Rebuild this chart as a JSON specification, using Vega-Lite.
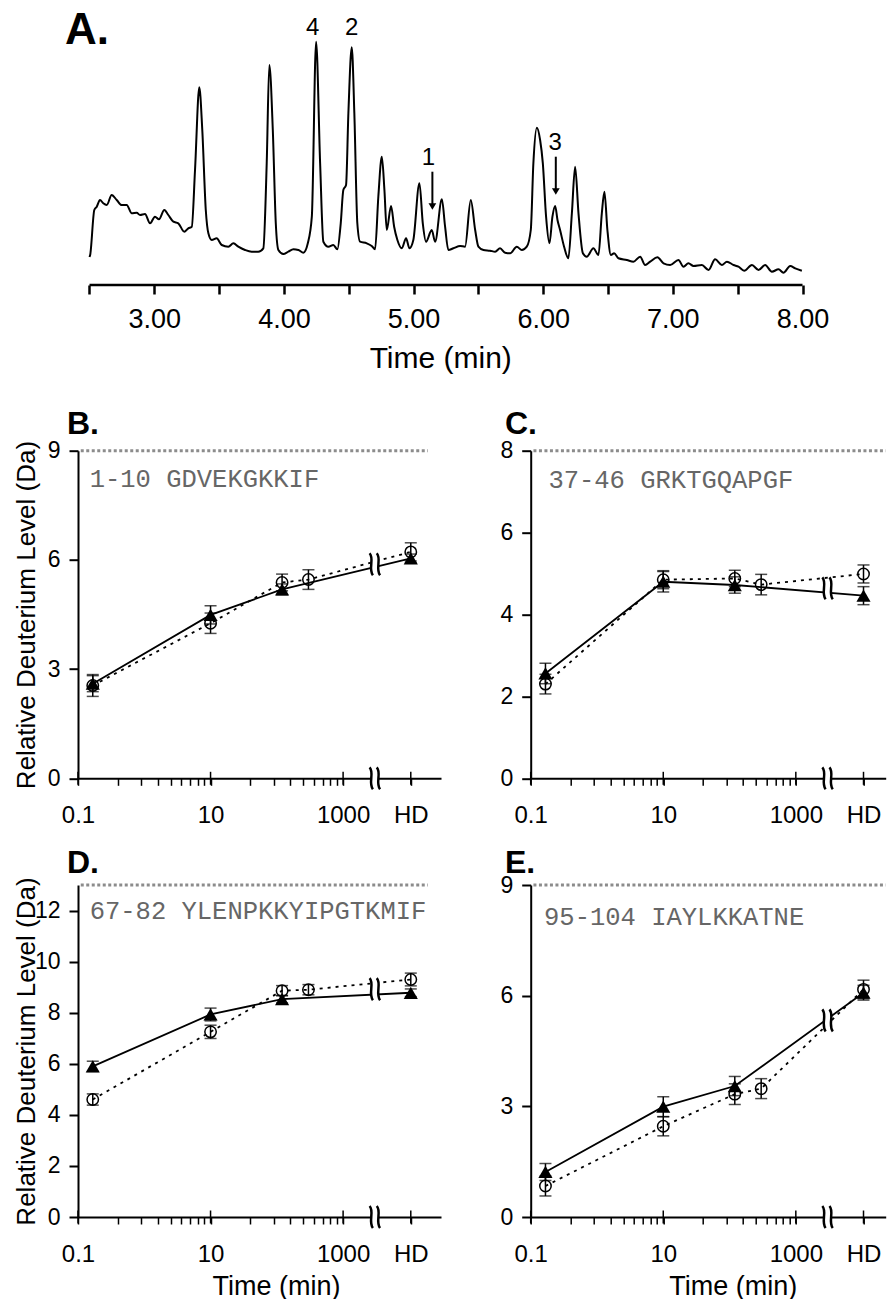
{
  "$schema": "https://vega.github.io/schema/vega-lite/v6.json",
  "autosize": {"type": "pad"},
  "padding": {"left": 13, "top": 0, "right": 0, "bottom": 0},
  "background": "white",
  "config": {
    "font": "Liberation Sans",
    "view": {"stroke": null},
    "axis": {"grid": false, "domainColor": "black", "tickColor": "black", "labelColor": "black", "titleColor": "black", "labelFont": "Liberation Sans", "titleFont": "Liberation Sans", "titleFontWeight": "normal"}
  },
  "datasets": {
    "chrom": [
      {"t":2.50,"i":28},{"t":2.505,"i":30},{"t":2.537,"i":75},{"t":2.556,"i":78.3},{"t":2.581,"i":85},{"t":2.606,"i":81.7},{"t":2.633,"i":80},{"t":2.671,"i":90},{"t":2.710,"i":85},{"t":2.748,"i":80},{"t":2.787,"i":80},{"t":2.826,"i":71.7},{"t":2.864,"i":72.3},{"t":2.890,"i":70},{"t":2.928,"i":71},{"t":2.967,"i":61.7},{"t":3.005,"i":68.3},{"t":3.036,"i":65.7},{"t":3.077,"i":75},{"t":3.108,"i":70},{"t":3.147,"i":63.3},{"t":3.185,"i":61.7},{"t":3.231,"i":53.3},{"t":3.262,"i":56.7},{"t":3.289,"i":58.3},{"t":3.314,"i":115},{"t":3.347,"i":197.7},{"t":3.370,"i":155},{"t":3.397,"i":75},{"t":3.417,"i":51.7},{"t":3.443,"i":45},{"t":3.481,"i":46.7},{"t":3.520,"i":40},{"t":3.571,"i":38.3},{"t":3.610,"i":41.7},{"t":3.648,"i":38.3},{"t":3.700,"i":35},{"t":3.751,"i":33.3},{"t":3.802,"i":33.3},{"t":3.841,"i":36.7},{"t":3.867,"i":121.7},{"t":3.887,"i":220},{"t":3.914,"i":155},{"t":3.937,"i":61.7},{"t":3.957,"i":35},{"t":3.995,"i":31},{"t":4.034,"i":33.3},{"t":4.073,"i":35.7},{"t":4.111,"i":35},{"t":4.150,"i":32.3},{"t":4.184,"i":41.7},{"t":4.215,"i":68.3},{"t":4.248,"i":243.3},{"t":4.279,"i":121.7},{"t":4.304,"i":43.3},{"t":4.343,"i":38.3},{"t":4.381,"i":40},{"t":4.412,"i":35.7},{"t":4.438,"i":61.7},{"t":4.458,"i":95},{"t":4.479,"i":100},{"t":4.497,"i":171.7},{"t":4.523,"i":237.7},{"t":4.543,"i":171.7},{"t":4.566,"i":61.7},{"t":4.587,"i":43.3},{"t":4.639,"i":41.7},{"t":4.677,"i":39},{"t":4.703,"i":35.7},{"t":4.728,"i":88.3},{"t":4.755,"i":128.3},{"t":4.775,"i":95},{"t":4.793,"i":55},{"t":4.826,"i":79},{"t":4.850,"i":58.3},{"t":4.875,"i":45},{"t":4.909,"i":36.7},{"t":4.942,"i":46.7},{"t":4.968,"i":36.7},{"t":4.998,"i":45},{"t":5.045,"i":101.7},{"t":5.071,"i":61.7},{"t":5.096,"i":43.3},{"t":5.140,"i":55},{"t":5.166,"i":43.3},{"t":5.218,"i":85.7},{"t":5.243,"i":58.3},{"t":5.268,"i":35},{"t":5.307,"i":36.7},{"t":5.359,"i":39},{"t":5.397,"i":38.3},{"t":5.441,"i":85},{"t":5.475,"i":55},{"t":5.500,"i":38.3},{"t":5.539,"i":35},{"t":5.590,"i":34.3},{"t":5.629,"i":33.3},{"t":5.667,"i":36.7},{"t":5.706,"i":32.3},{"t":5.745,"i":31.7},{"t":5.796,"i":38.3},{"t":5.835,"i":35},{"t":5.873,"i":38.3},{"t":5.904,"i":55},{"t":5.924,"i":121.7},{"t":5.951,"i":157.3},{"t":5.976,"i":145},{"t":5.997,"i":121.7},{"t":6.022,"i":68.3},{"t":6.048,"i":41.7},{"t":6.071,"i":68.3},{"t":6.092,"i":79},{"t":6.110,"i":65},{"t":6.130,"i":55},{"t":6.161,"i":38.3},{"t":6.194,"i":26.7},{"t":6.221,"i":71.7},{"t":6.246,"i":118.3},{"t":6.272,"i":71.7},{"t":6.306,"i":31.7},{"t":6.336,"i":28.3},{"t":6.387,"i":36.7},{"t":6.426,"i":30},{"t":6.452,"i":71.7},{"t":6.472,"i":93.3},{"t":6.495,"i":55},{"t":6.522,"i":30},{"t":6.547,"i":31.7},{"t":6.580,"i":26.7},{"t":6.645,"i":25},{"t":6.696,"i":23.3},{"t":6.748,"i":28.3},{"t":6.786,"i":20},{"t":6.825,"i":23.3},{"t":6.881,"i":27.7},{"t":6.928,"i":21.7},{"t":6.979,"i":20},{"t":7.043,"i":25},{"t":7.082,"i":18.3},{"t":7.120,"i":21.7},{"t":7.159,"i":19},{"t":7.224,"i":20},{"t":7.275,"i":15},{"t":7.326,"i":25.7},{"t":7.378,"i":20},{"t":7.417,"i":23.3},{"t":7.468,"i":20},{"t":7.506,"i":18.3},{"t":7.550,"i":14.3},{"t":7.610,"i":20},{"t":7.661,"i":15},{"t":7.712,"i":20},{"t":7.764,"i":13.3},{"t":7.815,"i":15.7},{"t":7.853,"i":12.3},{"t":7.905,"i":19},{"t":7.944,"i":16.7},{"t":7.995,"i":14.3}
    ],
    "pts": [
      {"p":"B","s":"tri","t":0.167,"v":2.6,"e":0.22},{"p":"B","s":"tri","t":10,"v":4.49,"e":0.25},{"p":"B","s":"tri","t":120,"v":5.19,"e":0.15},{"p":"B","s":"tri","t":10500,"v":6.04,"e":0.12},
      {"p":"B","s":"circ","t":0.167,"v":2.55,"e":0.3},{"p":"B","s":"circ","t":10,"v":4.26,"e":0.28},{"p":"B","s":"circ","t":120,"v":5.38,"e":0.23},{"p":"B","s":"circ","t":300,"v":5.46,"e":0.27},{"p":"B","s":"circ","t":10500,"v":6.22,"e":0.25},
      {"p":"C","s":"tri","t":0.167,"v":2.56,"e":0.25},{"p":"C","s":"tri","t":10,"v":4.8,"e":0.25},{"p":"C","s":"tri","t":120,"v":4.72,"e":0.2},{"p":"C","s":"tri","t":10500,"v":4.46,"e":0.22},
      {"p":"C","s":"circ","t":0.167,"v":2.3,"e":0.24},{"p":"C","s":"circ","t":10,"v":4.85,"e":0.22},{"p":"C","s":"circ","t":120,"v":4.88,"e":0.2},{"p":"C","s":"circ","t":300,"v":4.73,"e":0.25},{"p":"C","s":"circ","t":10500,"v":4.99,"e":0.22},
      {"p":"D","s":"tri","t":0.167,"v":5.9,"e":0.2},{"p":"D","s":"tri","t":10,"v":7.93,"e":0.25},{"p":"D","s":"tri","t":120,"v":8.53,"e":0.15},{"p":"D","s":"tri","t":10500,"v":8.78,"e":0.15},
      {"p":"D","s":"circ","t":0.167,"v":4.6,"e":0.22},{"p":"D","s":"circ","t":10,"v":7.25,"e":0.26},{"p":"D","s":"circ","t":120,"v":8.86,"e":0.2},{"p":"D","s":"circ","t":300,"v":8.9,"e":0.2},{"p":"D","s":"circ","t":10500,"v":9.3,"e":0.25},
      {"p":"E","s":"tri","t":0.167,"v":1.22,"e":0.23},{"p":"E","s":"tri","t":10,"v":2.99,"e":0.27},{"p":"E","s":"tri","t":120,"v":3.55,"e":0.26},{"p":"E","s":"tri","t":10500,"v":6.08,"e":0.2},
      {"p":"E","s":"circ","t":0.167,"v":0.84,"e":0.27},{"p":"E","s":"circ","t":10,"v":2.46,"e":0.26},{"p":"E","s":"circ","t":120,"v":3.33,"e":0.28},{"p":"E","s":"circ","t":300,"v":3.48,"e":0.27},{"p":"E","s":"circ","t":10500,"v":6.17,"e":0.25}
    ],
    "brk": [
      {"p":"B","t":3100,"v":0},{"p":"B","t":3100,"v":5.88},
      {"p":"C","t":3100,"v":0},{"p":"C","t":3100,"v":4.64},
      {"p":"D","t":3100,"v":0},{"p":"D","t":3100,"v":8.92},
      {"p":"E","t":3100,"v":0},{"p":"E","t":3100,"v":5.33}
    ],
    "txt": [
      {"p":"B","t":0.15,"v":8.0,"label":"1-10  GDVEKGKKIF"},
      {"p":"C","t":0.185,"v":7.08,"label":"37-46 GRKTGQAPGF"},
      {"p":"D","t":0.15,"v":11.65,"label":"67-82 YLENPKKYIPGTKMIF"},
      {"p":"E","t":0.159,"v":7.92,"label":"95-104 IAYLKKATNE"}
    ],
    "major": [{"t":0.1,"v":0},{"t":10,"v":0},{"t":1000,"v":0},{"t":10500,"v":0}]
  },
  "vconcat": [
    {
      "width": 724.5, "height": 285,
      "title": {"text": "A.", "anchor": "start", "frame": "group", "fontSize": 44, "fontWeight": "bold", "color": "black", "baseline": "alphabetic", "offset": 0, "dx": -13, "dy": 88},
      "encoding": {
        "x": {"field": "t", "type": "quantitative", "scale": {"domain": [2.4113, 8.0], "nice": false, "zero": false},
              "axis": {"values": [2.5,3,3.5,4,4.5,5,5.5,6,6.5,7,7.5,8], "labelExpr": "datum.value % 1 == 0 ? format(datum.value, '.2f') : ''", "domain": false, "tickSize": 9, "tickWidth": 2.5, "labelFontSize": 27, "labelPadding": 12, "labelFlush": false, "labelOverlap": false, "title": "Time (min)", "titleFontSize": 30, "titlePadding": 11}},
        "y": {"field": "i", "type": "quantitative", "scale": {"domain": [0, 285], "nice": false}, "axis": null}
      },
      "layer": [
        {"data": {"name": "chrom"}, "mark": {"type": "line", "color": "black", "strokeWidth": 2, "interpolate": "monotone"}},
        {"data": {"values": [{"t": 2.5, "t2": 8.0, "i": 0}]}, "mark": {"type": "rule", "color": "black", "strokeWidth": 2.5}, "encoding": {"x2": {"field": "t2"}}},
        {"data": {"values": [{"t":4.222,"i":250,"label":"4"},{"t":4.523,"i":250,"label":"2"},{"t":5.114,"i":120,"label":"1"},{"t":6.092,"i":135,"label":"3"}]},
         "mark": {"type": "text", "fontSize": 24, "color": "black", "align": "center", "baseline": "alphabetic"}, "encoding": {"text": {"field": "label"}}},
        {"data": {"values": [{"t":5.145,"top":113.3,"bot":80},{"t":6.097,"top":128.3,"bot":95}]},
         "mark": {"type": "rule", "color": "black", "strokeWidth": 2}, "encoding": {"y": {"field": "top", "type": "quantitative"}, "y2": {"field": "bot"}}},
        {"data": {"values": [{"t":5.145,"i":78.5},{"t":6.097,"i":93.5}]},
         "mark": {"type": "point", "shape": "triangle-down", "filled": true, "color": "black", "size": 60, "opacity": 1}}
      ]
    },
    {
      "vconcat": [
        {
          "hconcat": [
            {
              "width": 363, "height": 327.6,
              "title": {"text": "B.", "anchor": "start", "frame": "group", "fontSize": 32, "fontWeight": "bold", "color": "black", "baseline": "alphabetic", "offset": 0, "dx": -11, "dy": 26.2},
              "encoding": {
                "x": {"field": "t", "type": "quantitative", "scale": {"type": "log", "domain": [0.1, 30000], "nice": false},
                      "axis": {"values": [0.1,0.4,0.9,1.6,2.5,3.6,4.9,6.4,8.1,10,40,90,160,250,360,490,640,810,1000,10500], "labelExpr": "datum.value == 0.1 ? '0.1' : datum.value == 10 ? '10' : datum.value == 1000 ? '1000' : datum.value == 10500 ? 'HD' : ''", "tickSize": 7, "tickWidth": 1.5, "domainWidth": 2, "labelFontSize": 24, "labelPadding": 18, "labelFlush": false, "labelOverlap": false, "title": null}},
                "y": {"field": "v", "type": "quantitative", "scale": {"domain": [0, 9], "nice": false},
                      "axis": {"values": [0,3,6,9], "tickSize": 9, "tickWidth": 2, "domainWidth": 2, "labelFontSize": 23, "labelPadding": 9, "title": "Relative Deuterium Level (Da)", "titleFontSize": 26, "titleX": -52, "titleY": 163.8, "titleBaseline": "middle", "titleAlign": "center"}}
              },
              "layer": [
                {"data": {"values": [{"t": 0.11, "t2": 19000, "v": 9}]}, "mark": {"type": "rule", "color": "#8c8c8c", "strokeWidth": 3, "strokeDash": [3, 2.5]}, "encoding": {"x2": {"field": "t2"}}},
                {"data": {"name": "pts"}, "transform": [{"filter": "datum.p == 'B' && datum.s == 'tri'"}], "mark": {"type": "line", "color": "black", "strokeWidth": 1.8}},
                {"data": {"name": "pts"}, "transform": [{"filter": "datum.p == 'B' && datum.s == 'circ'"}], "mark": {"type": "line", "color": "black", "strokeWidth": 1.8, "strokeDash": [3, 5]}},
                {"data": {"name": "pts"}, "transform": [{"filter": "datum.p == 'B'"}], "mark": {"type": "errorbar", "ticks": {"size": 12, "thickness": 1.5}, "color": "black", "thickness": 1.5}, "encoding": {"yError": {"field": "e"}, "detail": {"field": "s"}}},
                {"data": {"name": "pts"}, "transform": [{"filter": "datum.p == 'B' && datum.s == 'circ'"}], "mark": {"type": "point", "shape": "circle", "filled": false, "color": "black", "strokeWidth": 1.5, "size": 130, "opacity": 1}},
                {"data": {"name": "pts"}, "transform": [{"filter": "datum.p == 'B' && datum.s == 'tri'"}], "mark": {"type": "point", "shape": "triangle-up", "filled": true, "color": "black", "size": 200, "opacity": 1}},
                {"data": {"name": "brk"}, "transform": [{"filter": "datum.p == 'B'"}], "mark": {"type": "point", "shape": "M-0.45,-0.75L0.3,-0.75L0.3,0.75L-0.45,0.75Z", "filled": true, "color": "white", "strokeWidth": 0, "size": 484, "opacity": 1}},
                {"data": {"name": "brk"}, "transform": [{"filter": "datum.p == 'B'"}], "mark": {"type": "point", "shape": "M-0.55,-1C-0.1,-0.5,-0.7,0.4,-0.25,1M0.1,-1C0.55,-0.5,-0.05,0.4,0.4,1", "filled": false, "color": "black", "strokeWidth": 2.5, "size": 484, "opacity": 1}},
                {"data": {"name": "major"}, "mark": {"type": "tick", "orient": "vertical", "size": 13, "thickness": 1.5, "color": "black", "opacity": 1}},
                {"data": {"name": "txt"}, "transform": [{"filter": "datum.p == 'B'"}], "mark": {"type": "text", "font": "Liberation Mono", "fontSize": 25.5, "color": "#666666", "align": "left", "baseline": "alphabetic"}, "encoding": {"text": {"field": "label"}}}
              ]
            },
            {
              "width": 355, "height": 327.6,
              "title": {"text": "C.", "anchor": "start", "frame": "group", "fontSize": 32, "fontWeight": "bold", "color": "black", "baseline": "alphabetic", "offset": 0, "dx": -25.7, "dy": 26.2},
              "encoding": {
                "x": {"field": "t", "type": "quantitative", "scale": {"type": "log", "domain": [0.1, 22700], "nice": false},
                      "axis": {"values": [0.1,0.4,0.9,1.6,2.5,3.6,4.9,6.4,8.1,10,40,90,160,250,360,490,640,810,1000,10500], "labelExpr": "datum.value == 0.1 ? '0.1' : datum.value == 10 ? '10' : datum.value == 1000 ? '1000' : datum.value == 10500 ? 'HD' : ''", "tickSize": 7, "tickWidth": 1.5, "domainWidth": 2, "labelFontSize": 24, "labelPadding": 18, "labelFlush": false, "labelOverlap": false, "title": null}},
                "y": {"field": "v", "type": "quantitative", "scale": {"domain": [0, 8], "nice": false},
                      "axis": {"values": [0,2,4,6,8], "tickSize": 9, "tickWidth": 2, "domainWidth": 2, "labelFontSize": 23, "labelPadding": 9, "title": null}}
              },
              "layer": [
                {"data": {"values": [{"t": 0.11, "t2": 22700, "v": 8}]}, "mark": {"type": "rule", "color": "#8c8c8c", "strokeWidth": 3, "strokeDash": [3, 2.5]}, "encoding": {"x2": {"field": "t2"}}},
                {"data": {"name": "pts"}, "transform": [{"filter": "datum.p == 'C' && datum.s == 'tri'"}], "mark": {"type": "line", "color": "black", "strokeWidth": 1.8}},
                {"data": {"name": "pts"}, "transform": [{"filter": "datum.p == 'C' && datum.s == 'circ'"}], "mark": {"type": "line", "color": "black", "strokeWidth": 1.8, "strokeDash": [3, 5]}},
                {"data": {"name": "pts"}, "transform": [{"filter": "datum.p == 'C'"}], "mark": {"type": "errorbar", "ticks": {"size": 12, "thickness": 1.5}, "color": "black", "thickness": 1.5}, "encoding": {"yError": {"field": "e"}, "detail": {"field": "s"}}},
                {"data": {"name": "pts"}, "transform": [{"filter": "datum.p == 'C' && datum.s == 'circ'"}], "mark": {"type": "point", "shape": "circle", "filled": false, "color": "black", "strokeWidth": 1.5, "size": 130, "opacity": 1}},
                {"data": {"name": "pts"}, "transform": [{"filter": "datum.p == 'C' && datum.s == 'tri'"}], "mark": {"type": "point", "shape": "triangle-up", "filled": true, "color": "black", "size": 200, "opacity": 1}},
                {"data": {"name": "brk"}, "transform": [{"filter": "datum.p == 'C'"}], "mark": {"type": "point", "shape": "M-0.45,-0.75L0.3,-0.75L0.3,0.75L-0.45,0.75Z", "filled": true, "color": "white", "strokeWidth": 0, "size": 484, "opacity": 1}},
                {"data": {"name": "brk"}, "transform": [{"filter": "datum.p == 'C'"}], "mark": {"type": "point", "shape": "M-0.55,-1C-0.1,-0.5,-0.7,0.4,-0.25,1M0.1,-1C0.55,-0.5,-0.05,0.4,0.4,1", "filled": false, "color": "black", "strokeWidth": 2.5, "size": 484, "opacity": 1}},
                {"data": {"name": "major"}, "mark": {"type": "tick", "orient": "vertical", "size": 13, "thickness": 1.5, "color": "black", "opacity": 1}},
                {"data": {"name": "txt"}, "transform": [{"filter": "datum.p == 'C'"}], "mark": {"type": "text", "font": "Liberation Mono", "fontSize": 25.5, "color": "#666666", "align": "left", "baseline": "alphabetic"}, "encoding": {"text": {"field": "label"}}}
              ]
            }
          ],
          "spacing": 89.7,
          "bounds": "flush"
        },
        {
          "hconcat": [
            {
              "width": 363, "height": 332,
              "title": {"text": "D.", "anchor": "start", "frame": "group", "fontSize": 32, "fontWeight": "bold", "color": "black", "baseline": "alphabetic", "offset": 0, "dx": -11, "dy": 28},
              "encoding": {
                "x": {"field": "t", "type": "quantitative", "scale": {"type": "log", "domain": [0.1, 30000], "nice": false},
                      "axis": {"values": [0.1,0.4,0.9,1.6,2.5,3.6,4.9,6.4,8.1,10,40,90,160,250,360,490,640,810,1000,10500], "labelExpr": "datum.value == 0.1 ? '0.1' : datum.value == 10 ? '10' : datum.value == 1000 ? '1000' : datum.value == 10500 ? 'HD' : ''", "tickSize": 7, "tickWidth": 1.5, "domainWidth": 2, "labelFontSize": 24, "labelPadding": 18, "labelFlush": false, "labelOverlap": false, "title": "Time (min)", "titleFontSize": 27, "titleX": 198, "titleY": 69, "titleBaseline": "middle", "titleAlign": "center"}},
                "y": {"field": "v", "type": "quantitative", "scale": {"domain": [0, 13], "nice": false},
                      "axis": {"values": [0,2,4,6,8,10,12], "tickSize": 9, "tickWidth": 2, "domainWidth": 2, "labelFontSize": 23, "labelPadding": 9, "title": "Relative Deuterium Level (Da)", "titleFontSize": 26, "titleX": -52, "titleY": 166, "titleBaseline": "middle", "titleAlign": "center"}}
              },
              "layer": [
                {"data": {"values": [{"t": 0.11, "t2": 19000, "v": 13}]}, "mark": {"type": "rule", "color": "#8c8c8c", "strokeWidth": 3, "strokeDash": [3, 2.5]}, "encoding": {"x2": {"field": "t2"}}},
                {"data": {"name": "pts"}, "transform": [{"filter": "datum.p == 'D' && datum.s == 'tri'"}], "mark": {"type": "line", "color": "black", "strokeWidth": 1.8}},
                {"data": {"name": "pts"}, "transform": [{"filter": "datum.p == 'D' && datum.s == 'circ'"}], "mark": {"type": "line", "color": "black", "strokeWidth": 1.8, "strokeDash": [3, 5]}},
                {"data": {"name": "pts"}, "transform": [{"filter": "datum.p == 'D'"}], "mark": {"type": "errorbar", "ticks": {"size": 12, "thickness": 1.5}, "color": "black", "thickness": 1.5}, "encoding": {"yError": {"field": "e"}, "detail": {"field": "s"}}},
                {"data": {"name": "pts"}, "transform": [{"filter": "datum.p == 'D' && datum.s == 'circ'"}], "mark": {"type": "point", "shape": "circle", "filled": false, "color": "black", "strokeWidth": 1.5, "size": 130, "opacity": 1}},
                {"data": {"name": "pts"}, "transform": [{"filter": "datum.p == 'D' && datum.s == 'tri'"}], "mark": {"type": "point", "shape": "triangle-up", "filled": true, "color": "black", "size": 200, "opacity": 1}},
                {"data": {"name": "brk"}, "transform": [{"filter": "datum.p == 'D'"}], "mark": {"type": "point", "shape": "M-0.45,-0.75L0.3,-0.75L0.3,0.75L-0.45,0.75Z", "filled": true, "color": "white", "strokeWidth": 0, "size": 484, "opacity": 1}},
                {"data": {"name": "brk"}, "transform": [{"filter": "datum.p == 'D'"}], "mark": {"type": "point", "shape": "M-0.55,-1C-0.1,-0.5,-0.7,0.4,-0.25,1M0.1,-1C0.55,-0.5,-0.05,0.4,0.4,1", "filled": false, "color": "black", "strokeWidth": 2.5, "size": 484, "opacity": 1}},
                {"data": {"name": "major"}, "mark": {"type": "tick", "orient": "vertical", "size": 13, "thickness": 1.5, "color": "black", "opacity": 1}},
                {"data": {"name": "txt"}, "transform": [{"filter": "datum.p == 'D'"}], "mark": {"type": "text", "font": "Liberation Mono", "fontSize": 25.5, "color": "#666666", "align": "left", "baseline": "alphabetic"}, "encoding": {"text": {"field": "label"}}}
              ]
            },
            {
              "width": 355, "height": 332,
              "title": {"text": "E.", "anchor": "start", "frame": "group", "fontSize": 32, "fontWeight": "bold", "color": "black", "baseline": "alphabetic", "offset": 0, "dx": -25.7, "dy": 30.7},
              "encoding": {
                "x": {"field": "t", "type": "quantitative", "scale": {"type": "log", "domain": [0.1, 22700], "nice": false},
                      "axis": {"values": [0.1,0.4,0.9,1.6,2.5,3.6,4.9,6.4,8.1,10,40,90,160,250,360,490,640,810,1000,10500], "labelExpr": "datum.value == 0.1 ? '0.1' : datum.value == 10 ? '10' : datum.value == 1000 ? '1000' : datum.value == 10500 ? 'HD' : ''", "tickSize": 7, "tickWidth": 1.5, "domainWidth": 2, "labelFontSize": 24, "labelPadding": 18, "labelFlush": false, "labelOverlap": false, "title": "Time (min)", "titleFontSize": 27, "titleX": 202, "titleY": 69, "titleBaseline": "middle", "titleAlign": "center"}},
                "y": {"field": "v", "type": "quantitative", "scale": {"domain": [0, 9], "nice": false},
                      "axis": {"values": [0,3,6,9], "tickSize": 9, "tickWidth": 2, "domainWidth": 2, "labelFontSize": 23, "labelPadding": 9, "title": null}}
              },
              "layer": [
                {"data": {"values": [{"t": 0.11, "t2": 22700, "v": 9}]}, "mark": {"type": "rule", "color": "#8c8c8c", "strokeWidth": 3, "strokeDash": [3, 2.5]}, "encoding": {"x2": {"field": "t2"}}},
                {"data": {"name": "pts"}, "transform": [{"filter": "datum.p == 'E' && datum.s == 'tri'"}], "mark": {"type": "line", "color": "black", "strokeWidth": 1.8}},
                {"data": {"name": "pts"}, "transform": [{"filter": "datum.p == 'E' && datum.s == 'circ'"}], "mark": {"type": "line", "color": "black", "strokeWidth": 1.8, "strokeDash": [3, 5]}},
                {"data": {"name": "pts"}, "transform": [{"filter": "datum.p == 'E'"}], "mark": {"type": "errorbar", "ticks": {"size": 12, "thickness": 1.5}, "color": "black", "thickness": 1.5}, "encoding": {"yError": {"field": "e"}, "detail": {"field": "s"}}},
                {"data": {"name": "pts"}, "transform": [{"filter": "datum.p == 'E' && datum.s == 'circ'"}], "mark": {"type": "point", "shape": "circle", "filled": false, "color": "black", "strokeWidth": 1.5, "size": 130, "opacity": 1}},
                {"data": {"name": "pts"}, "transform": [{"filter": "datum.p == 'E' && datum.s == 'tri'"}], "mark": {"type": "point", "shape": "triangle-up", "filled": true, "color": "black", "size": 200, "opacity": 1}},
                {"data": {"name": "brk"}, "transform": [{"filter": "datum.p == 'E'"}], "mark": {"type": "point", "shape": "M-0.45,-0.75L0.3,-0.75L0.3,0.75L-0.45,0.75Z", "filled": true, "color": "white", "strokeWidth": 0, "size": 484, "opacity": 1}},
                {"data": {"name": "brk"}, "transform": [{"filter": "datum.p == 'E'"}], "mark": {"type": "point", "shape": "M-0.55,-1C-0.1,-0.5,-0.7,0.4,-0.25,1M0.1,-1C0.55,-0.5,-0.05,0.4,0.4,1", "filled": false, "color": "black", "strokeWidth": 2.5, "size": 484, "opacity": 1}},
                {"data": {"name": "major"}, "mark": {"type": "tick", "orient": "vertical", "size": 13, "thickness": 1.5, "color": "black", "opacity": 1}},
                {"data": {"name": "txt"}, "transform": [{"filter": "datum.p == 'E'"}], "mark": {"type": "text", "font": "Liberation Mono", "fontSize": 25.5, "color": "#666666", "align": "left", "baseline": "alphabetic"}, "encoding": {"text": {"field": "label"}}}
              ]
            }
          ],
          "spacing": 89.7,
          "bounds": "flush"
        }
      ],
      "spacing": 434.3,
      "bounds": "flush"
    }
  ],
  "spacing": 165.7,
  "bounds": "flush"
}
